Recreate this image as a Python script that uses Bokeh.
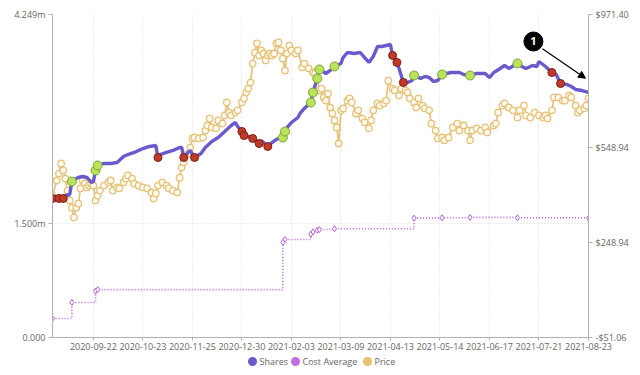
from bokeh.plotting import figure
from bokeh.layouts import column
from bokeh.models import (Range1d, LinearAxis, FixedTicker, ColumnDataSource, Arrow, NormalHead, Label)
from bokeh.core.properties import value
from bokeh.embed import file_html
from bokeh.resources import INLINE

# ---------------- data ----------------
x_ticks = [19, 42, 65, 88, 111, 134, 157, 180, 203, 226, 249]
x_labels = ["2020-09-22", "2020-10-23", "2020-11-25", "2020-12-30", "2021-02-03",
            "2021-03-09", "2021-04-13", "2021-05-14", "2021-06-17", "2021-07-21", "2021-08-23"]

left_ticks = [0, 1.5, 4.249]
left_labels = ["0.000", "1.500m", "4.249m"]
right_ticks = [-51.06, 248.94, 548.94, 971.40]
right_labels = ["-$51.06", "$248.94", "$548.94", "$971.40"]

price_idx = [0, 2, 3, 4, 5, 6, 7, 8, 9, 10, 11, 12, 13, 14, 15, 16, 17, 18, 19, 20, 21, 22, 24, 26, 27, 28,
             30, 31, 33, 34, 35, 37, 38, 40, 42, 44, 46, 47, 48, 49, 51, 53, 54, 56, 58, 59, 60, 61, 63, 64,
             65, 66, 68, 70, 71, 72, 73, 74, 76, 77, 79, 80, 81, 82, 83, 85, 86, 88, 89, 90, 91, 92, 93, 94,
             95, 96, 97, 98, 99, 100, 101, 102, 103, 104, 105, 106, 107, 108, 109, 110, 111, 113, 114, 116,
             117, 119, 121, 122, 123, 124, 125, 126, 127, 128, 129, 130, 131, 132, 133, 134, 135, 137, 138,
             139, 141, 142, 144, 145, 147, 148, 149, 151, 152, 154, 155, 156, 158, 159, 161, 162, 164, 165,
             166, 168, 169, 170, 172, 173, 175, 176, 178, 179, 181, 182, 184, 186, 188, 189, 191, 193, 194,
             195, 197, 199, 201, 202, 205, 206, 207, 209, 210, 212, 214, 216, 217, 219, 220, 222, 224, 226,
             228, 229, 230, 232, 233, 235, 237, 238, 240, 241, 243, 244, 245, 247, 248, 249]
price_val = [398, 446, 468, 500, 478, 452, 414, 383, 360, 329, 360, 373, 421, 446, 436, 424, 430, 436, 430,
             383, 398, 414, 430, 440, 446, 414, 424, 421, 440, 452, 462, 452, 436, 430, 424, 421, 408, 389,
             405, 430, 440, 430, 421, 414, 408, 455, 487, 503, 531, 550, 579, 582, 579, 582, 604, 620, 642,
             614, 611, 636, 626, 652, 693, 661, 652, 661, 668, 693, 706, 725, 737, 756, 816, 851, 880, 842,
             858, 848, 826, 842, 848, 842, 848, 880, 883, 858, 832, 794, 848, 873, 858, 848, 858, 804, 816,
             801, 788, 785, 772, 731, 737, 709, 699, 721, 677, 658, 636, 614, 563, 668, 674, 699, 706, 693,
             658, 668, 642, 630, 611, 636, 668, 690, 683, 690, 699, 762, 737, 731, 715, 737, 731, 725, 706,
             693, 677, 706, 683, 674, 668, 626, 604, 579, 582, 573, 582, 614, 626, 604, 620, 604, 573, 604,
             611, 604, 614, 598, 620, 626, 661, 683, 690, 677, 668, 645, 668, 683, 652, 645, 661, 652, 645,
             652, 642, 668, 709, 709, 699, 699, 715, 709, 683, 661, 668, 674, 683, 706]

shares_idx = [0, 3, 5, 6, 8, 9, 10, 12, 14, 16, 18, 19, 20, 21, 24, 27, 30, 33, 35, 38, 40, 42, 45, 48, 49,
              50, 53, 56, 59, 60, 61, 63, 64, 66, 69, 71, 74, 77, 80, 83, 85, 86, 88, 89, 91, 93, 95, 96, 97,
              100, 102, 104, 107, 108, 109, 111, 114, 115, 117, 120, 121, 123, 124, 125, 127, 129, 131, 134,
              135, 137, 140, 143, 145, 147, 149, 151, 153, 157, 158, 159, 160, 161, 163, 165, 167, 168, 171,
              173, 175, 177, 179, 181, 183, 185, 189, 191, 194, 197, 201, 203, 205, 208, 210, 212, 216, 218,
              220, 223, 225, 226, 229, 230, 232, 234, 236, 239, 241, 243, 246, 249]
shares_val = [1.829, 1.829, 1.829, 1.868, 1.881, 2.052, 2.078, 2.105, 2.118, 2.105, 2.040, 2.050, 2.197,
              2.263, 2.289, 2.289, 2.302, 2.381, 2.407, 2.434, 2.460, 2.486, 2.513, 2.526, 2.368, 2.407,
              2.434, 2.460, 2.500, 2.500, 2.368, 2.434, 2.460, 2.368, 2.421, 2.500, 2.578, 2.631, 2.710,
              2.789, 2.828, 2.776, 2.710, 2.657, 2.644, 2.618, 2.565, 2.552, 2.592, 2.513, 2.565, 2.605,
              2.631, 2.710, 2.763, 2.828, 2.894, 2.947, 3.013, 3.091, 3.223, 3.407, 3.526, 3.513, 3.473,
              3.513, 3.565, 3.605, 3.683, 3.749, 3.736, 3.749, 3.683, 3.618, 3.697, 3.828, 3.828, 3.854,
              3.710, 3.670, 3.618, 3.539, 3.355, 3.355, 3.381, 3.447, 3.407, 3.434, 3.420, 3.368, 3.381,
              3.460, 3.473, 3.486, 3.486, 3.460, 3.447, 3.473, 3.473, 3.420, 3.486, 3.539, 3.578, 3.539,
              3.605, 3.565, 3.539, 3.578, 3.565, 3.631, 3.565, 3.539, 3.486, 3.460, 3.341, 3.328, 3.302,
              3.263, 3.249, 3.223]

buy_idx = [9, 20, 21, 107, 108, 120, 121, 123, 124, 131, 168, 181, 194, 216]
sell_idx = [0, 3, 5, 49, 61, 66, 88, 89, 93, 96, 100, 158, 160, 163, 232, 236]

cost_idx = [0, 9, 20, 21, 107, 108, 120, 121, 123, 124, 131, 168, 181, 194, 216, 249]
cost_val = [0.25, 0.46, 0.61, 0.63, 1.25, 1.29, 1.36, 1.39, 1.41, 1.42, 1.43, 1.57, 1.575, 1.58, 1.575, 1.57]

legend_labels = ["Shares", "Cost Average", "Price"]

annot_x = [223.4]
annot_y = [3.894]
annot_text = ["1"]
arrow_from = (227.6, 3.80)
arrow_to = (247.6, 3.41)

# ---------------- styles / layout ----------------
SHARES_C = "#6a5acd"
COST_C = "#b660dc"
PRICE_C = "#e6c278"
AX_C = "#b0b0b0"
TXT_C = "#666666"
FONT = "Open Sans"
LEGEND_SWATCH = ["#6a5acd", "#c46be6", "#e8c070"]
LEGEND_DOT_X = [200, 243, 315]      # pixel offsets within legend strip
LEGEND_TXT_X = [207, 250, 322]

p = figure(width=632, height=354, output_backend="svg", toolbar_location=None,
           x_range=Range1d(0, 249), y_range=Range1d(0, 4.249),
           min_border_left=52, min_border_right=44, min_border_top=14, min_border_bottom=17)
p.extra_y_ranges = {"price": Range1d(right_ticks[0], right_ticks[-1])}
p.outline_line_color = None
p.background_fill_color = "white"

def style_axis(ax, tick_out=4, standoff=3):
    ax.axis_line_color = AX_C
    ax.major_tick_line_color = AX_C
    ax.major_tick_out = tick_out
    ax.major_tick_in = 0
    ax.minor_tick_line_color = None
    ax.major_label_text_color = TXT_C
    ax.major_label_text_font_size = "9px"
    ax.major_label_text_font = FONT
    ax.major_label_standoff = standoff

p.xaxis.ticker = FixedTicker(ticks=x_ticks)
p.xaxis.major_label_overrides = {t: l for t, l in zip(x_ticks, x_labels)}
style_axis(p.xaxis[0], tick_out=3, standoff=2)

p.yaxis.ticker = FixedTicker(ticks=left_ticks)
p.yaxis.major_label_overrides = {t: l for t, l in zip(left_ticks, left_labels)}
style_axis(p.yaxis[0])

raxis = LinearAxis(y_range_name="price", ticker=FixedTicker(ticks=right_ticks),
                   major_label_overrides={t: l for t, l in zip(right_ticks, right_labels)})
style_axis(raxis)
p.add_layout(raxis, "right")

p.xgrid.ticker = FixedTicker(ticks=x_ticks)
p.ygrid.ticker = FixedTicker(ticks=left_ticks)
for g in (p.xgrid[0], p.ygrid[0]):
    g.grid_line_color = "#dcdcdc"
    g.grid_line_dash = "1 2"
    g.grid_line_width = 1

# cost average
p.step(cost_idx, cost_val, mode="after", line_color=COST_C, line_width=1.6, line_dash="1 2")
p.scatter(cost_idx, cost_val, marker="diamond", size=6, line_color=COST_C, fill_color="white", line_width=1)

# price
psrc = ColumnDataSource(dict(x=price_idx, y=price_val))
p.line("x", "y", source=psrc, y_range_name="price", line_color=PRICE_C, line_width=1.7)
p.scatter("x", "y", source=psrc, y_range_name="price", size=6.5, line_color=PRICE_C,
          fill_color="#fffaf0", line_width=1.3)

# shares
p.line(shares_idx, shares_val, line_color=SHARES_C, line_width=3.4)
share_map = dict(zip(shares_idx, shares_val))
p.scatter(sell_idx, [share_map[i] for i in sell_idx], size=8, fill_color="#c0392b",
          line_color="#7a1f14", line_width=1)
p.scatter(buy_idx, [share_map[i] for i in buy_idx], size=9, fill_color="#b9e35b",
          line_color="#7fa23a", line_width=1)

# annotation
p.add_layout(Arrow(end=NormalHead(size=7, fill_color="black", line_color="black"),
                   x_start=arrow_from[0], y_start=arrow_from[1],
                   x_end=arrow_to[0], y_end=arrow_to[1], line_color="black", line_width=1.2))
p.scatter(annot_x, annot_y, size=19, fill_color="black", line_color="black")
p.add_layout(Label(x=annot_x[0], y=annot_y[0], text=annot_text[0], text_color="white",
                   text_font=FONT, text_font_style="bold", text_font_size="11px",
                   text_align="center", text_baseline="middle"))

# ---------------- legend strip below (pixel-unit ranges) ----------------
lg = figure(width=632, height=20, output_backend="svg", toolbar_location=None,
            x_range=Range1d(0, 536), y_range=Range1d(0, 20), x_axis_type=None, y_axis_type=None,
            min_border=0, min_border_left=0, min_border_right=0, min_border_top=0, min_border_bottom=0)
lg.outline_line_color = None
lg.xgrid.visible = False
lg.ygrid.visible = False
lg.scatter(LEGEND_DOT_X, [13] * 3, size=9, fill_color=LEGEND_SWATCH, line_color=None)
lg.text(LEGEND_TXT_X, [13] * 3, text=legend_labels, text_font=value(FONT), text_font_size="9px",
        text_color=TXT_C, text_baseline="middle", text_align="left")

layout = column(p, lg, spacing=0)
open("out.html", "w").write(file_html(layout, INLINE))
